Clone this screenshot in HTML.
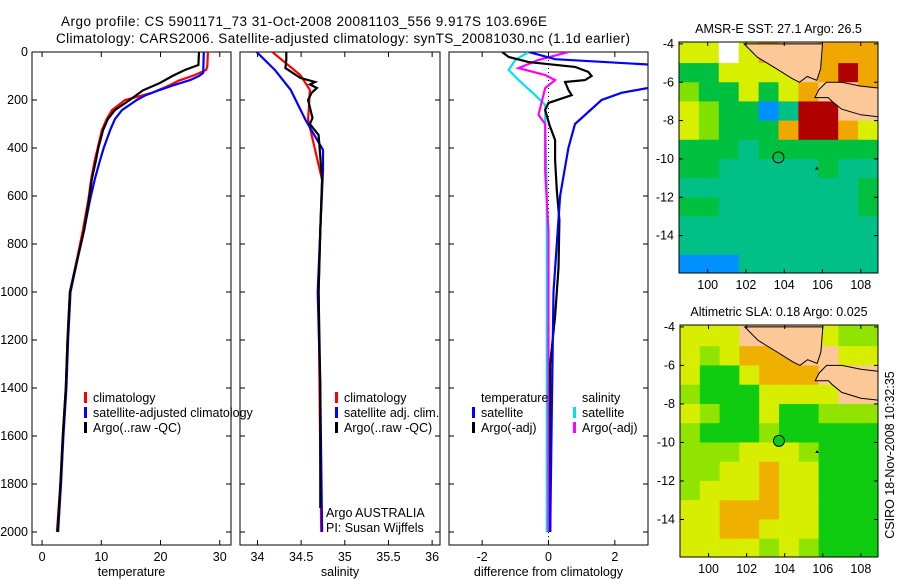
<!DOCTYPE html>
<html><head><meta charset="utf-8"><style>
html,body{margin:0;padding:0;background:#fff;}
svg{display:block;font-family:"Liberation Sans",sans-serif;}
</style></head><body>
<svg id="c" width="900" height="580" viewBox="0 0 900 580" xmlns="http://www.w3.org/2000/svg">
<text x="61" y="26" font-size="13.5" textLength="486">Argo profile: CS 5901171_73 31-Oct-2008 20081103_556 9.917S 103.696E</text>
<text x="56" y="43" font-size="13.5" textLength="574">Climatology: CARS2006. Satellite-adjusted climatology: synTS_20081030.nc (1.1d earlier)</text>
<text transform="translate(894,455) rotate(-90)" font-size="12.5" text-anchor="middle">CSIRO 18-Nov-2008 10:32:35</text>
</svg>
<script>
// ---------- data ----------
const depthTicks=[0,200,400,600,800,1000,1200,1400,1600,1800,2000];
const tempTicks=[0,10,20,30];
const salTicks=[34,34.5,35,35.5,36];
const salTickLabels=["34","34.5","35","35.5","36"];
const diffTicks=[-2,0,2];
const diffTickLabels=["-2","0","2"];

const tClimDepth=[0,60,75,96,120,138,171,200,242,280,325,400,450,530,617,742,850,1000,1200,1400,1600,1800,2000];
const tClim=[28.0,27.9,27.7,25.8,23.0,21.6,18.5,14.0,11.8,10.9,10.1,9.4,8.9,8.3,7.8,6.9,6.0,4.7,4.3,4.0,3.5,3.1,2.5];
const tSatDepth=[0,87,100,117,140,158,180,200,242,280,325,400,450,530,617,742,850,1000,1200,1400,1600,1800,2000];
const tSat=[27.3,27.2,26.5,25.0,22.0,19.9,17.5,16.0,13.5,12.3,11.5,10.4,9.8,8.9,8.1,7.1,6.1,4.8,4.4,4.1,3.6,3.2,2.7];
const tArgoDepth=[0,54,75,100,129,160,200,242,280,325,400,450,530,617,742,850,1000,1200,1400,1600,1800,2000];
const tArgo=[26.5,26.4,24.1,22.0,19.9,17.0,14.8,12.3,11.1,10.3,9.5,9.1,8.4,7.9,7.1,6.1,4.7,4.3,4.0,3.5,3.1,2.6];

const sClimDepth=[0,96,158,283,408,533,742,1000,1400,2000];
const sClim=[34.17,34.49,34.60,34.58,34.66,34.74,34.72,34.70,34.71,34.73];
const sSatDepth=[0,75,158,283,408,492,742,1000,1400,2000];
const sSat=[33.99,34.20,34.38,34.55,34.75,34.75,34.72,34.69,34.72,34.74];
const sArgoDepth=[0,33,67,108,125,135,150,170,200,275,300,346,533,742,1000,1400,1900];
const sArgo=[34.33,34.33,34.32,34.49,34.66,34.60,34.68,34.62,34.58,34.63,34.60,34.70,34.74,34.72,34.70,34.72,34.72];

const dTSatDepth=[0,30,60,100,130,150,170,200,250,300,400,600,800,1000,1500,2000];
const dTSat=[-0.6,0.2,4,6,4,3,2.2,1.6,1.2,0.8,0.6,0.35,0.25,0.15,0.1,0.05];
const dTArgoDepth=[0,21,42,62,83,100,117,125,158,180,212,242,304,367,450,575,700,900,1100,1300,2000];
const dTArgo=[-1.4,-1.2,-0.6,0.8,1.2,1.3,1.1,0.5,0.6,0.7,0.0,-0.1,0.03,0.2,0.2,0.25,0.33,0.3,0.2,0.05,0.05];
const dSSatDepth=[0,33,75,117,180,221,300,600,1000,2000];
const dSSat=[-0.6,-1.0,-1.2,-0.9,-0.4,-0.1,-0.1,-0.05,-0.05,-0.05];
const dSArgoDepth=[0,33,67,96,117,150,262,300,500,750,1000,2000];
const dSArgo=[0.6,-0.3,-0.9,-0.1,0.2,-0.1,-0.3,-0.1,-0.1,0.0,0.0,0.0];

// map grids: rows lat -4..-16 (1 deg), cols lon 98.5..108.9
const sstRows=["YYWYOLLOOO","GGYYYYLORO","gGGYGYOLLO","YgGGBTRRLL","YgGGGORROY","GGGTGGGGGG","GGTTTTTGTT","TTTTTTTTTG","GGTTTTTTTG","TTTTTTTTTT","TTTTTTTTTT","BBBTTTTTTT"];
const slaRows=["YYYLLLLYgg","YgYOOOLLYY","YGGYOOOLLL","gGGGYYYYLL","YgGGYGGggg","gGGGgGGGGG","gggYYYgGGG","ggYYOYYGGG","gYYYOYYGGG","YYOOOYYGGG","YYOOYYYGGG","YYYYgYgGGG"];
const sstColors={G:"#00c040",T:"#00c088",Y:"#d8f000",O:"#f0a800",R:"#b00000",L:"#fdc898",B:"#0090ff",g:"#80e000",W:"#ffffff"};
const slaColors={G:"#10cc10",Y:"#d8ee00",O:"#f0b000",L:"#fdc898",g:"#90e400"};
const sumatraLon=[101.9,102.6,103.6,104.4,104.8,105.2,105.7,105.9,106.0];
const sumatraLat=[-4,-4.7,-5.3,-5.8,-6.0,-5.7,-5.9,-5.3,-4.0];
const javaLon=[106.2,107,108,108.9,108.9,108,107,106.5,106.3,105.6,105.8];
const javaLat=[-6.0,-6.0,-6.2,-6.3,-7.8,-7.7,-7.4,-7.0,-6.8,-6.8,-6.4];
const lonTicks=[100,102,104,106,108];
const latTicks=[-4,-6,-8,-10,-12,-14];
const argoLon=103.696, argoLat=-9.917;

// ---------- drawing ----------
const NS="http://www.w3.org/2000/svg";
const svg=document.getElementById('c');
function mk(tag,attrs,parent){const e=document.createElementNS(NS,tag);for(const k in attrs)e.setAttribute(k,attrs[k]);(parent||svg).appendChild(e);return e;}
const Y0=52,Y1=545;
const yD=d=>Y0+d*0.24;

function panel(name,x0,x1,v0,v1,ticks,labels,xlabel){
  const g=mk('g',{});
  
  
  const sx=v=>x0+(v-v0)/(v1-v0)*(x1-x0);
  const r=mk('rect',{x:x0,y:Y0,width:x1-x0,height:Y1-Y0,fill:'none',stroke:'#000','stroke-width':1},g);
  
  
  depthTicks.forEach(d=>{
    mk('line',{x1:x0,x2:x0+5,y1:yD(d),y2:yD(d),stroke:'#000'},g);
    mk('line',{x1:x1,x2:x1-5,y1:yD(d),y2:yD(d),stroke:'#000'},g);
  });
  ticks.forEach((t,i)=>{
    mk('line',{x1:sx(t),x2:sx(t),y1:Y1,y2:Y1-5,stroke:'#000'},g);
    mk('line',{x1:sx(t),x2:sx(t),y1:Y0,y2:Y0+5,stroke:'#000'},g);
    const tx=mk('text',{x:sx(t),y:561,'font-size':12.5,'text-anchor':'middle'},g);
    tx.textContent=labels[i];
    
    
  });
  const xl=mk('text',{x:(x0+x1)/2,y:576,'font-size':12.5,'text-anchor':'middle'},g);
  xl.textContent=xlabel;
  
  
  const cid='clip-'+name;
  const cp=mk('clipPath',{id:cid},g);
  mk('rect',{x:x0,y:Y0,width:x1-x0,height:Y1-Y0},cp);
  return {g,sx,clip:'url(#'+cid+')'};
}
function line(p,depths,vals,color,name){
  const pts=depths.map((d,i)=>p.sx(vals[i]).toFixed(1)+','+yD(d).toFixed(1)).join(' ');
  const l=mk('polyline',{points:pts,fill:'none',stroke:color,'stroke-width':2.2,'clip-path':p.clip},p.g);
  
  
}
function legText(g,x,y,txt,color,name){
  if(color){mk('rect',{x:x-9,y:y-10,width:3,height:11,fill:color},g);}
  const t=mk('text',{x:x,y:y,'font-size':12.5},g);t.textContent=txt;
  
  
}

depthTicks.forEach(d=>{
  const t=mk('text',{x:28,y:yD(d)+4,'font-size':12.5,'text-anchor':'end'});
  t.textContent=String(d);
  
  
});

const pT=panel('temperature-panel',32,231,-1.7,31.9,tempTicks,tempTicks.map(String),'temperature');
line(pT,tClimDepth,tClim,'#ff0000','temp-climatology-line');
line(pT,tSatDepth,tSat,'#0000ff','temp-satellite-line');
line(pT,tArgoDepth,tArgo,'#000000','temp-argo-line');
const lt=mk('g',{},pT.g);


legText(lt,93,402,'climatology','#ff0000','legend-entry-climatology');
legText(lt,93,417,'satellite-adjusted climatology','#0000ff','legend-entry-satellite');
legText(lt,93,432,'Argo(..raw -QC)','#000000','legend-entry-argo');

const pS=panel('salinity-panel',240,440,33.8,36.09,salTicks,salTickLabels,'salinity');
line(pS,sClimDepth,sClim,'#ff0000','sal-climatology-line');
line(pS,sSatDepth,sSat,'#0000ff','sal-satellite-line');
line(pS,sArgoDepth,sArgo,'#000000','sal-argo-line');
const ls=mk('g',{},pS.g);


legText(ls,344,402,'climatology','#ff0000','legend-entry-climatology');
legText(ls,344,417,'satellite adj. clim.','#0000ff','legend-entry-satellite');
legText(ls,344,432,'Argo(..raw -QC)','#000000','legend-entry-argo');
legText(ls,326,517,'Argo AUSTRALIA',null,'argo-program-label');
legText(ls,326,532,'PI: Susan Wijffels',null,'pi-label');

const pD=panel('difference-panel',449,648,-3.0,3.0,diffTicks,diffTickLabels,'difference from climatology');
mk('line',{x1:pD.sx(0),x2:pD.sx(0),y1:Y0,y2:Y1,stroke:'#000','stroke-dasharray':'1,3'},pD.g);
line(pD,dSSatDepth,dSSat,'#00e0f0','diff-sal-satellite-line');
line(pD,dSArgoDepth,dSArgo,'#ff00ff','diff-sal-argo-line');
line(pD,dTArgoDepth,dTArgo,'#000000','diff-temp-argo-line');
line(pD,dTSatDepth,dTSat,'#0000ff','diff-temp-satellite-line');
const ld=mk('g',{},pD.g);


legText(ld,481,402,'temperature',null,'legend-title-temperature');
legText(ld,481,417,'satellite','#0000ff','legend-entry-temp-satellite');
legText(ld,481,432,'Argo(-adj)','#000000','legend-entry-temp-argo');
legText(ld,582,402,'salinity',null,'legend-title-salinity');
legText(ld,582,417,'satellite','#00e0f0','legend-entry-sal-satellite');
legText(ld,582,432,'Argo(-adj)','#ff00ff','legend-entry-sal-argo');

function map(name,x0,x1,y0,y1,rows,colors,title,filledMarker){
  const g=mk('g',{});
  
  
  const L0=98.5,L1=108.9,A0=-3.9,A1=-15.95;
  const sx=l=>x0+(l-L0)/(L1-L0)*(x1-x0);
  const sy=a=>y0+(a-A0)/(A1-A0)*(y1-y0);
  const cid='clip-'+name;
  const cp=mk('clipPath',{id:cid},g);
  mk('rect',{x:x0,y:y0,width:x1-x0,height:y1-y0},cp);
  const cg=mk('g',{'clip-path':'url(#'+cid+')'},g);
  rows.forEach((row,ri)=>{
    for(let ci=0;ci<row.length;ci++){
      const lonA=L0+ci*(L1-L0)/row.length, lonB=L0+(ci+1)*(L1-L0)/row.length;
      const latA=(ri===0?-3.9:-4-ri), latB=(ri===rows.length-1?-16:-5-ri);
      const c=mk('rect',{x:sx(lonA),y:sy(latA),width:sx(lonB)-sx(lonA)+0.5,height:sy(latB)-sy(latA)+0.5,fill:colors[row[ci]]},cg);
      
      
    }
  });
  [[sumatraLon,sumatraLat,'sumatra-land'],[javaLon,javaLat,'java-land']].forEach(([lo,la,n])=>{
    const p=mk('polygon',{points:lo.map((v,i)=>sx(v).toFixed(1)+','+sy(la[i]).toFixed(1)).join(' '),fill:'#fdc898',stroke:'#000','stroke-width':1},cg);
    
    
  });
  const m=mk('circle',{cx:sx(argoLon),cy:sy(argoLat),r:5.5,fill:filledMarker?'#10cc10':'none',stroke:'#000','stroke-width':1},g);
  
  
  mk('polygon',{points:`${sx(105.6)},${sy(-10.55)} ${sx(105.8)},${sy(-10.55)} ${sx(105.7)},${sy(-10.4)}`,fill:'#000'},g);
  mk('rect',{x:x0,y:y0,width:x1-x0,height:y1-y0,fill:'none',stroke:'#000'},g);
  lonTicks.forEach(l=>{
    mk('line',{x1:sx(l),x2:sx(l),y1:y1,y2:y1-4,stroke:'#000'},g);
    mk('line',{x1:sx(l),x2:sx(l),y1:y0,y2:y0+4,stroke:'#000'},g);
    const t=mk('text',{x:sx(l),y:y1+16,'font-size':12.5,'text-anchor':'middle'},g);t.textContent=String(l);
    
    
  });
  latTicks.forEach(a=>{
    mk('line',{x1:x0,x2:x0+4,y1:sy(a),y2:sy(a),stroke:'#000'},g);
    mk('line',{x1:x1,x2:x1-4,y1:sy(a),y2:sy(a),stroke:'#000'},g);
    const t=mk('text',{x:x0-5,y:sy(a)+4,'font-size':12.5,'text-anchor':'end'},g);t.textContent=String(a);
    
    
  });
  const tt=mk('text',{x:(x0+x1)/2,y:y0-9,'font-size':12.5,'text-anchor':'middle'},g);tt.textContent=title;
  
  
}
map('sst-map',679,878,42,273,sstRows,sstColors,'AMSR-E SST: 27.1 Argo: 26.5',false);
map('sla-map',680,878,325,557,slaRows,slaColors,'Altimetric SLA: 0.18 Argo: 0.025',true);
</script>
</body></html>
